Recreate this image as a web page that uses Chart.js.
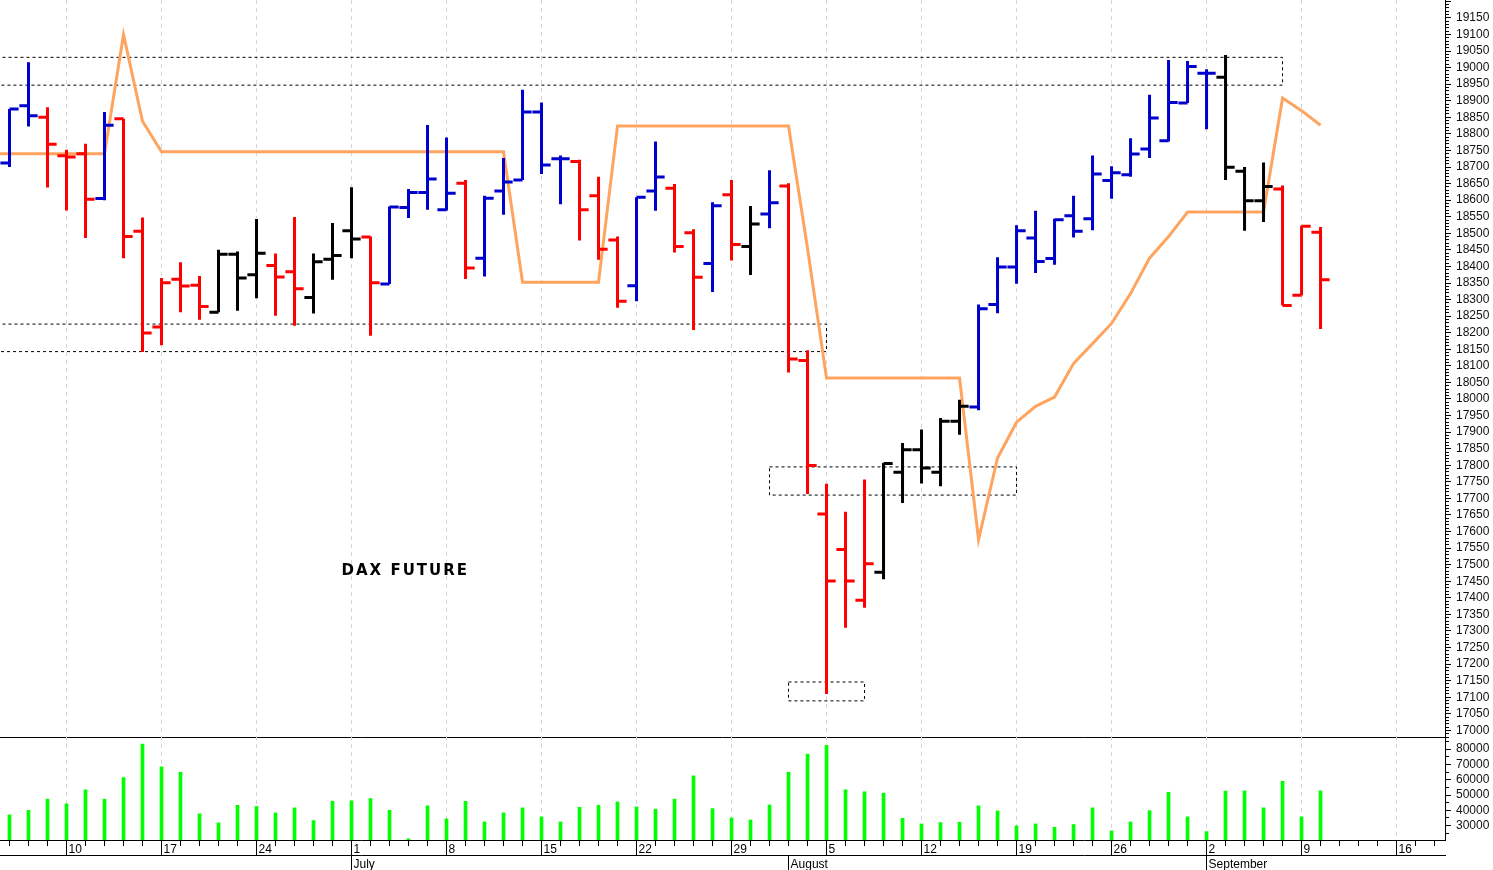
<!DOCTYPE html>
<html>
<head>
<meta charset="utf-8">
<title>DAX Future</title>
<script src="https://cdn.jsdelivr.net/npm/chart.js@4.4.1/dist/chart.umd.min.js"></script>
<style>
  html, body { margin: 0; padding: 0; background: #fff; }
  #wrap { width: 1493px; height: 870px; position: relative; }
</style>
</head>
<body>
<div id="wrap"><canvas id="chart"></canvas></div>
<script>
// daily sessions, 5 June .. 10 September (index 0 = 5 June)
const opens  = [18712, 18885, 18850, 18734, 18740, 18605, 18846, 18506, 18217, 18361,
                18343, 18262, 18437, 18375, 18403, 18384, 18306, 18422, 18508, 18489,
                18347, 18578, 18623, 18571, 18651, 18425, 18628, 18661, 18866, 18725,
                18717, 18613, 18480, 18342, 18628, 18636, 18502, 18409, 18616, 18460,
                18558, 18643, 18116, 17653, 17546, 17393, 17477, 17779, 17847, 17779,
                17933, 17976, 18285, 18398, 18486, 18424, 18553, 18544, 18659, 18677,
                18754, 18779, 18893, 18983, 18971, 18687, 18598, 18634, 18313, 18503];
const highs  = [18875, 19016, 18880, 18752, 18770, 18866, 18846, 18548, 18365, 18413,
                18371, 18450, 18445, 18543, 18439, 18549, 18439, 18531, 18639, 18490,
                18581, 18634, 18827, 18789, 18661, 18613, 18727, 18933, 18895, 18735,
                18722, 18671, 18490, 18609, 18777, 18649, 18512, 18594, 18661, 18582,
                18690, 18651, 18147, 17744, 17660, 17757, 17807, 17867, 17908, 17943,
                17998, 18285, 18428, 18524, 18568, 18544, 18613, 18735, 18702, 18787,
                18918, 19023, 19020, 18995, 19038, 18700, 18714, 18644, 18523, 18519];
const lows   = [18700, 18822, 18638, 18569, 18486, 18600, 18425, 18142, 18162, 18262,
                18239, 18262, 18266, 18304, 18251, 18221, 18258, 18360, 18425, 18191,
                18347, 18546, 18571, 18569, 18362, 18370, 18556, 18661, 18679, 18588,
                18478, 18420, 18275, 18295, 18568, 18442, 18208, 18323, 18418, 18374,
                18515, 18080, 17713, 17110, 17310, 17370, 17456, 17686, 17745, 17737,
                17892, 17966, 18259, 18348, 18380, 18405, 18487, 18509, 18604, 18671,
                18727, 18777, 18893, 18814, 18661, 18508, 18534, 18282, 18312, 18211];
const closes = [18875, 18855, 18769, 18730, 18603, 18826, 18490, 18199, 18351, 18341,
                18279, 18437, 18365, 18440, 18368, 18333, 18414, 18433, 18483, 18351,
                18579, 18623, 18664, 18621, 18395, 18606, 18655, 18866, 18706, 18725,
                18571, 18452, 18295, 18609, 18670, 18460, 18367, 18583, 18466, 18528,
                18592, 18121, 17799, 17451, 17451, 17503, 17805, 17847, 17792, 17933,
                17978, 18272, 18398, 18508, 18415, 18541, 18506, 18679, 18683, 18739,
                18848, 18895, 19003, 18983, 18699, 18598, 18641, 18282, 18521, 18360];
// 1 = up trend (blue), -1 = down trend (red), 0 = neutral (black)
const trend  = [1, 1, -1, -1, -1, 1, -1, -1, -1, -1,
                -1, 0, 0, 0, -1, -1, 0, 0, 0, -1,
                1, 1, 1, 1, -1, 1, 1, 1, 1, 1,
                -1, -1, -1, 1, 1, -1, -1, 1, -1, 0,
                1, -1, -1, -1, -1, -1, 0, 0, 0, 0,
                0, 1, 1, 1, 1, 1, 1, 1, 1, 1,
                1, 1, 1, 1, 0, 0, 0, -1, -1, -1];
const volumes = [37000, 40000, 47300, 44200, 53400, 47300, 61400, 83300, 68400, 64900,
                 37700, 31800, 43300, 42500, 38300, 41600, 33300, 45900, 46200, 47700,
                 40000, 21400, 42900, 34400, 45900, 32400, 38300, 41600, 35700, 32400,
                 42000, 43300, 45500, 42200, 40700, 47300, 62500, 41100, 35000, 33700,
                 43500, 64900, 76700, 82400, 53400, 52100, 51200, 34800, 31100, 32000,
                 32200, 42900, 39600, 29800, 31100, 28900, 30700, 41600, 26500, 32400,
                 39800, 51800, 35700, 26100, 52500, 52700, 41600, 59000, 35700, 52700];
// orange stop line, starts one session before the first bar (index -1)
const stopLine = [18740,
                  18740, 18740, 18740, 18740, 18740, 18740, 19100, 18838, 18746, 18746,
                  18746, 18746, 18746, 18746, 18746, 18746, 18746, 18746, 18746, 18746,
                  18746, 18746, 18746, 18746, 18746, 18746, 18746, 18352, 18352, 18352,
                  18352, 18352, 18824, 18824, 18824, 18824, 18824, 18824, 18824, 18824,
                  18824, 18824, 18454, 18063, 18063, 18063, 18063, 18063, 18063, 18063,
                  18063, 17576, 17822, 17930, 17978, 18006, 18107, 18167, 18228, 18318,
                  18425, 18490, 18564, 18564, 18564, 18564, 18564, 18908, 18870, 18826];
// price zones (dotted boxes): session range and price range
const zoneFrom   = [-1, -1, 40, 41];
const zoneTo     = [67, 43, 53, 45];
const zoneTop    = [19031, 18226, 17795, 17146];
const zoneBottom = [18947, 18143, 17710, 17089];

const weekStarts  = [3, 8, 13, 18, 23, 28, 33, 38, 43, 48, 53, 58, 63, 68, 73];
const weekLabels  = ['10', '17', '24', '1', '8', '15', '22', '29', '5', '12', '19', '26', '2', '9', '16'];
const monthStarts = [18, 41, 63];
const monthLabels = ['July', 'August', 'September'];

const chartLabel = { text: 'DAX FUTURE', at: 20.83, price: 17481 };

const X_MIN = -0.5, X_MAX = 75.55;
const P_MIN = 16980, P_MAX = 19204;
const V_MIN = 20600, V_MAX = 87900;
const TICK = 0.48;
const TREND_COLORS = { '1': '#0000cc', '-1': '#ff0000', '0': '#000000' };
const AXIS_FONT = { family: 'Liberation Sans, Arial, sans-serif', size: 12 };

function ohlcPoints(kind) {
  const pts = [];
  for (let i = 0; i < opens.length; i++) {
    if (trend[i] !== kind) continue;
    pts.push({ x: i, y: highs[i] }, { x: i, y: lows[i] }, { x: i, y: null });
    pts.push({ x: i - TICK, y: opens[i] }, { x: i, y: opens[i] }, { x: i, y: null });
    pts.push({ x: i, y: closes[i] }, { x: i + TICK, y: closes[i] }, { x: i, y: null });
  }
  return pts;
}

function zonePoints() {
  const pts = [];
  zoneFrom.forEach((from, k) => {
    pts.push({ x: from, y: zoneTop[k] }, { x: zoneTo[k], y: zoneTop[k] },
             { x: zoneTo[k], y: zoneBottom[k] }, { x: from, y: zoneBottom[k] },
             { x: from, y: zoneTop[k] }, { x: from, y: null });
  });
  return pts;
}

function range(from, to, step) {
  const out = [];
  for (let v = from; v <= to; v += step) out.push({ value: v });
  return out;
}

function noPadding(scale) {
  scale.paddingTop = 0; scale.paddingBottom = 0;
  scale.paddingLeft = 0; scale.paddingRight = 0;
}

const ohlcSets = [1, -1, 0].map(kind => ({
  type: 'line',
  data: ohlcPoints(kind),
  borderColor: TREND_COLORS[kind],
  borderWidth: 3,
  borderCapStyle: 'butt',
  pointRadius: 0,
  spanGaps: false,
  tension: 0,
  xAxisID: 'x',
  yAxisID: 'y'
}));

const labelPlugin = {
  id: 'chartLabel',
  afterDatasetsDraw(chart) {
    const { ctx, scales: { x, y } } = chart;
    ctx.save();
    ctx.font = 'bold 15px "DejaVu Sans", Verdana, sans-serif';
    ctx.letterSpacing = '2px';
    ctx.fillStyle = '#000';
    ctx.textAlign = 'center';
    ctx.textBaseline = 'middle';
    ctx.fillText(chartLabel.text, x.getPixelForValue(chartLabel.at), y.getPixelForValue(chartLabel.price));
    ctx.restore();
  }
};

new Chart(document.getElementById('chart'), {
  type: 'line',
  data: {
    datasets: [
      ...ohlcSets,
      {
        type: 'line',
        data: stopLine.map((v, k) => ({ x: k - 1, y: v })),
        borderColor: '#ffa45e',
        borderWidth: 3,
        pointRadius: 0,
        tension: 0,
        xAxisID: 'x',
        yAxisID: 'y'
      },
      {
        type: 'line',
        data: zonePoints(),
        borderColor: '#000',
        borderWidth: 1,
        borderDash: [3, 3],
        pointRadius: 0,
        spanGaps: false,
        tension: 0,
        xAxisID: 'x',
        yAxisID: 'y'
      },
      {
        type: 'bar',
        data: volumes.map((v, i) => ({ x: i, y: v })),
        backgroundColor: '#00ff00',
        borderWidth: 0,
        barThickness: 3,
        xAxisID: 'x',
        yAxisID: 'yv'
      }
    ]
  },
  options: {
    responsive: true,
    maintainAspectRatio: false,
    animation: false,
    events: [],
    layout: { padding: 0 },
    plugins: { legend: { display: false }, tooltip: { enabled: false } },
    scales: {
      y: {
        position: 'right',
        stack: 'panes',
        stackWeight: 737,
        min: P_MIN,
        max: P_MAX,
        afterBuildTicks: s => { s.ticks = range(P_MIN, 19200, 10); },
        afterFit: s => { s.width = 48; noPadding(s); },
        grid: {
          color: c => c.tick && c.tick.value === P_MIN ? '#000' : 'rgba(0,0,0,0)',
          tickLength: 6,
          tickColor: '#000',
          tickBorderDash: c => (c.tick && c.tick.value % 50 === 0) ? [] : [3, 20]
        },
        border: { color: '#000', width: 1, dash: [] },
        ticks: {
          autoSkip: false,
          padding: 5,
          color: '#111',
          font: AXIS_FONT,
          callback: v => (v % 50 === 0 && v >= 17000 && v <= 19150) ? String(v) : ''
        }
      },
      yv: {
        position: 'right',
        stack: 'panes',
        stackWeight: 103,
        min: V_MIN,
        max: V_MAX,
        beginAtZero: false,
        afterBuildTicks: s => { s.ticks = range(25000, 85000, 5000); },
        afterFit: s => { s.width = 48; noPadding(s); },
        grid: {
          drawOnChartArea: false,
          tickLength: 6,
          tickColor: '#000',
          tickBorderDash: c => (c.tick && c.tick.value % 10000 === 0) ? [] : [3, 20]
        },
        border: { color: '#000', width: 1 },
        ticks: {
          autoSkip: false,
          padding: 5,
          color: '#111',
          font: AXIS_FONT,
          callback: v => (v % 10000 === 0 && v >= 30000 && v <= 80000) ? String(v) : ''
        }
      },
      x: {
        type: 'linear',
        position: 'bottom',
        offset: false,
        min: X_MIN,
        max: X_MAX,
        afterBuildTicks: s => { s.ticks = range(0, 75, 1); },
        afterFit: s => { s.height = 15; noPadding(s); },
        grid: {
          offset: false,
          color: c => c.tick && weekStarts.includes(c.tick.value) ? '#d6d6d6' : 'rgba(0,0,0,0)',
          lineWidth: 1,
          tickLength: 15,
          tickColor: '#000',
          tickBorderDash: c => c.tick && weekStarts.includes(c.tick.value) ? [] : [5, 30]
        },
        border: { color: '#000', width: 1, dash: [4, 4] },
        ticks: {
          autoSkip: false,
          maxRotation: 0,
          align: 'start',
          labelOffset: 2,
          padding: -13,
          color: '#000',
          font: AXIS_FONT,
          callback: v => { const k = weekStarts.indexOf(v); return k >= 0 ? weekLabels[k] : ''; }
        }
      },
      xm: {
        type: 'linear',
        position: 'bottom',
        offset: false,
        min: X_MIN,
        max: X_MAX,
        afterBuildTicks: s => { s.ticks = monthStarts.map(v => ({ value: v })); },
        afterFit: s => { s.height = 15; noPadding(s); },
        grid: { offset: false, drawOnChartArea: false, tickLength: 15, tickColor: '#000' },
        border: { color: '#000', width: 1 },
        ticks: {
          autoSkip: false,
          maxRotation: 0,
          align: 'start',
          labelOffset: 2,
          padding: -13,
          color: '#000',
          font: AXIS_FONT,
          callback: v => { const k = monthStarts.indexOf(v); return k >= 0 ? monthLabels[k] : ''; }
        }
      }
    }
  },
  plugins: [labelPlugin]
});
</script>
</body>
</html>
